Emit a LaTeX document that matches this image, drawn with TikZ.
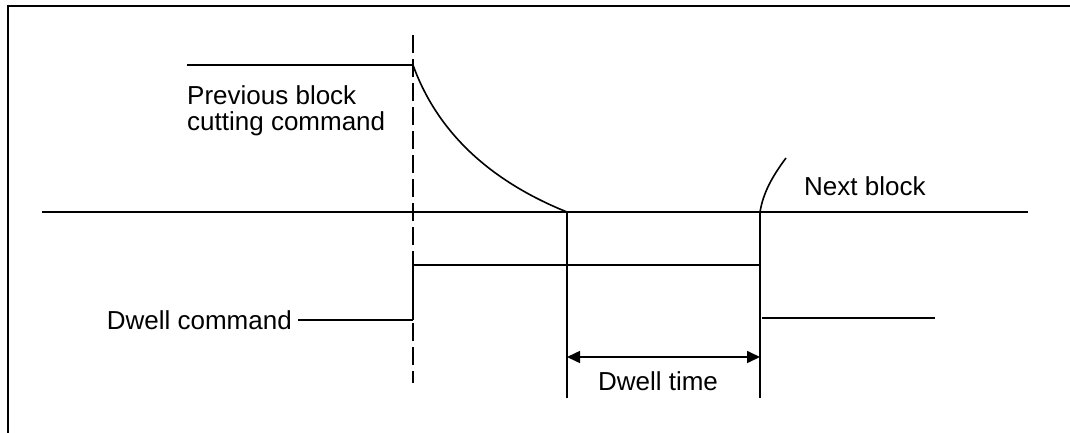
\documentclass[tikz,border=0pt]{standalone}
\usepackage{fontspec}
\setmainfont{Liberation Sans}
\usetikzlibrary{arrows.meta}
\begin{document}
\begin{tikzpicture}[x=1pt,y=-1pt,
  ln/.style={line width=1.6pt},
  dsh/.style={line width=1.8pt,dash pattern=on 18pt off 6pt},
  lbl/.style={font=\fontsize{26}{26}\selectfont,inner sep=0pt},
  dim/.style={line width=1.6pt,{Triangle[length=13pt,width=12pt]}-{Triangle[length=13pt,width=12pt]}}]
\useasboundingbox (0,0) rectangle (1070,433);
% frame (left and top only)
\draw[line width=2.4pt] (7.8,433) -- (7.8,6) -- (1070,6);
% coordinates
\coordinate (pt) at (187,65);
\coordinate (ds) at (413,65);
\coordinate (dtop) at (413,35);
\coordinate (dbot) at (413,383);
\coordinate (hl) at (42,212);
\coordinate (hr) at (1028,212);
\coordinate (a) at (567,212);
\coordinate (b) at (760,212);
\coordinate (abot) at (567,398);
\coordinate (bbot) at (760,398);
\coordinate (hi1) at (413,265);
\coordinate (hi2) at (760,265);
\coordinate (lo1) at (413,320);
\coordinate (lo2) at (762,318);
\coordinate (lo3) at (935,318);
\coordinate (nb) at (786,158);
\coordinate (ar1) at (567,357);
\coordinate (ar2) at (760,357);
% dashed reference line
\draw[dsh] (dtop) -- (dbot);
% previous block
\draw[ln] (pt) -- (ds);
\draw[ln] (ds) .. controls (440,140) and (500,185) .. (a);
% axis
\draw[ln] (hl) -- (hr);
% verticals
\draw[ln] (a) -- (abot);
\draw[ln] (b) -- (bbot);
% next block
\draw[ln] (b) .. controls (763,194) and (771,178) .. (nb);
% dwell signal
\draw[ln] (lo1) -- (hi1) -- (hi2);
\draw[ln] (lo2) -- (lo3);
% labels
\node[lbl,anchor=base west] (prev1) at (187,105) {Previous block};
\node[lbl,anchor=base west] (prev2) at (187,131) {cutting command};
\node[lbl,anchor=base west] (next) at (804,195) {Next block};
\node[lbl,anchor=base east] (dwc) at (292,329) {Dwell command};
\node[lbl,anchor=base] (dwt) at (658,390) {Dwell time};
\draw[ln] (dwc.east |- lo1) ++(6,0) coordinate (dwcs) -- (lo1);
\draw[dim] (ar1) -- (ar2);
\end{tikzpicture}
\end{document}
